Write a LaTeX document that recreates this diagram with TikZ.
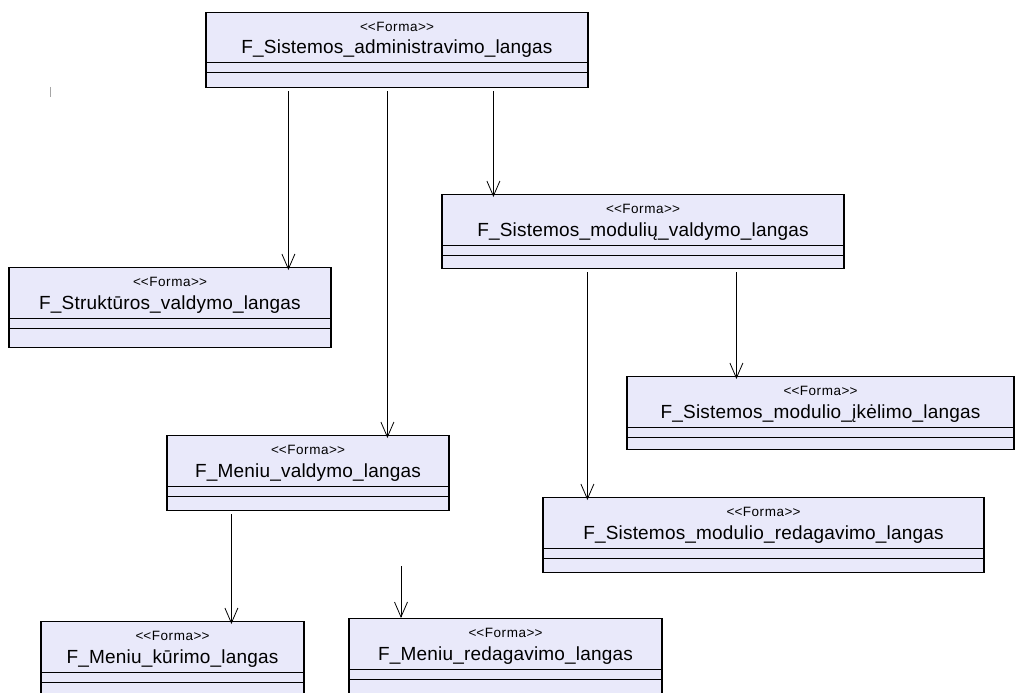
\documentclass[tikz,border=0pt]{standalone}
\usepackage{fontspec}
\setmainfont{Liberation Sans}
\newfontfamily\namefont[LetterSpace=1]{Liberation Sans}
\newfontfamily\stereofont[LetterSpace=4]{Liberation Sans}
\usetikzlibrary{arrows.meta}
\definecolor{formfill}{RGB}{233,233,250}
\tikzstyle{formbox} = [draw=black, fill=formfill, line width=1.2pt, inner sep=0pt]
\tikzstyle{stereo}  = [inner sep=0pt, anchor=base, font=\stereofont\fontsize{13.5}{15}\selectfont]
\tikzstyle{fname}   = [inner sep=0pt, anchor=base, font=\namefont\fontsize{19}{21}\selectfont]
\tikzstyle{compart} = [line width=1pt]
\tikzstyle{dep}     = [-{Straight Barb[length=15pt,width=13pt]}, line width=0.8pt]
% box: name, centre x, top y, width, height, title
\newcommand{\forma}[6]{%
  \node[formbox, anchor=north, minimum width=#4pt, minimum height=#5pt] (#1) at (#2,#3) {};
  \node[stereo] (#1-s) at ([yshift=-19.5pt]#1.north) {<\kern0pt<Forma>\kern0pt>};
  \node[fname]  (#1-n) at ([yshift=-42pt]#1.north) {#6};
  \draw[compart] ([yshift=-51pt]#1.north west) -- ([yshift=-51pt]#1.north east);
  \draw[compart] ([yshift=-61pt]#1.north west) -- ([yshift=-61pt]#1.north east);
}

\begin{document}
\begin{tikzpicture}[x=1pt, y=-1pt]
\useasboundingbox (0,0) rectangle (1015,693);
\fill[white] (0,0) rectangle (1015,693);

% Define nodes
\forma{adm}  {397}  {12}  {382} {75} {F\_Sistemos\_administravimo\_langas}
\forma{str}  {170}  {267} {322} {80} {F\_Struktūros\_valdymo\_langas}
\forma{mod}  {643}  {194} {402} {74} {F\_Sistemos\_modulių\_valdymo\_langas}
\forma{ikel} {820.5}{376} {387} {73} {F\_Sistemos\_modulio\_įkėlimo\_langas}
\forma{mred} {763.5}{497} {441} {75} {F\_Sistemos\_modulio\_redagavimo\_langas}
\forma{mval} {308}  {435} {282} {75} {F\_Meniu\_valdymo\_langas}
\forma{mkur} {172.5}{621} {263} {75} {F\_Meniu\_kūrimo\_langas}
\forma{mrd}  {505.5}{618} {313} {75} {F\_Meniu\_redagavimo\_langas}

\coordinate (frd) at (401,566);
\draw[gray!70, line width=1pt] (50.5,87) -- (50.5,97);

% Edges
\draw[dep] ([xshift=83pt,yshift=-3pt]adm.south west)  -- ([xshift=83pt,yshift=-3pt]adm.south west |- str.north);
\draw[dep] ([xshift=182pt,yshift=-3pt]adm.south west) -- ([xshift=182pt,yshift=-3pt]adm.south west |- mval.north);
\draw[dep] ([xshift=288pt,yshift=-3pt]adm.south west) -- ([xshift=288pt,yshift=-3pt]adm.south west |- mod.north);
\draw[dep] ([xshift=146pt,yshift=-3pt]mod.south west) -- ([xshift=146pt,yshift=-3pt]mod.south west |- mred.north);
\draw[dep] ([xshift=295pt,yshift=-3pt]mod.south west) -- ([xshift=295pt,yshift=-3pt]mod.south west |- ikel.north);
\draw[dep] ([xshift=65pt,yshift=-3pt]mval.south west) -- ([xshift=65pt,yshift=-3pt]mval.south west |- mkur.north);
\draw[dep] (frd) -- (frd |- mrd.north);

\end{tikzpicture}
\end{document}
